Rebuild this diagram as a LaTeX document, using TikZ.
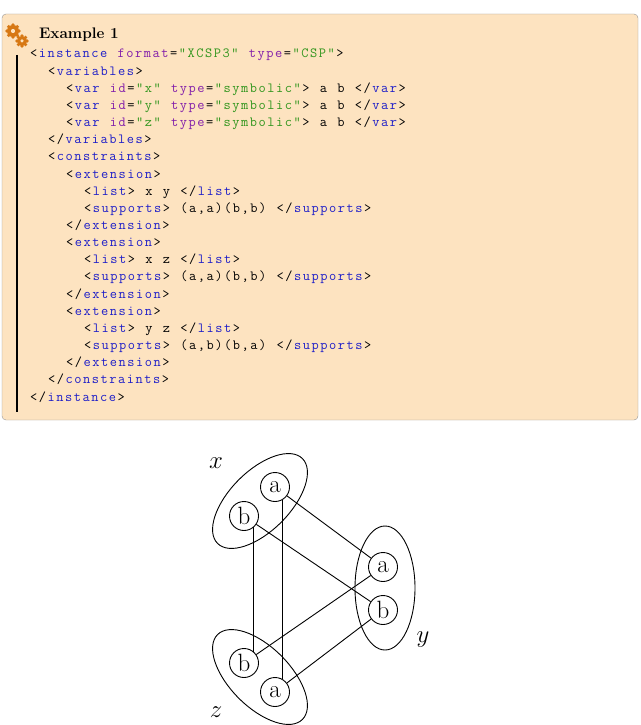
\documentclass[tikz,border=0pt]{standalone}
\usepackage{fontspec}
\newfontfamily\codefont{Latin Modern Mono}
\newcommand\codesetup{\fontsize{14}{15}\codefont}
\definecolor{boxbg}{RGB}{253,227,192}
\definecolor{boxfr}{RGB}{150,150,150}
\definecolor{tagc}{RGB}{30,30,200}
\definecolor{attc}{RGB}{130,30,170}
\definecolor{strc}{RGB}{50,150,30}
\definecolor{gear}{RGB}{215,120,20}
\newcommand\cB{\color{tagc}}
\newcommand\cP{\color{attc}}
\newcommand\cG{\color{strc}}
\newcommand\cK{\color{black}}
\newcommand\cS{\hspace*{8.75pt}}
\def\clstop{\clstop}
\newcommand\cl[1]{\clA#1\clstop}
\def\clA#1{\ifx#1\clstop\else\ifcat\noexpand#1\relax #1\else\makebox[8.75pt][l]{#1}\fi\expandafter\clA\fi}
\begin{document}
\begin{tikzpicture}[x=1pt,y=-1pt,
  codeline/.style={anchor=base west,inner sep=0pt,font=\codesetup},
  val/.style={circle,draw,line width=0.9pt,minimum size=29pt,inner sep=0pt,font=\fontsize{25}{26}\selectfont},
  edge/.style={line width=0.9pt},
  lab/.style={font=\fontsize{30}{32}\selectfont}]
\useasboundingbox (0,0) rectangle (640,725);
\draw[boxfr,fill=boxbg,rounded corners=4pt] (2,14) rectangle (638,420);
\draw[line width=2.5pt] (17,55) -- (17,412);
% gears
\foreach \cx/\cy/\r in {13/31/6,22/41/5}{
  \fill[gear] (\cx,\cy) circle (\r);
  \foreach \a in {0,45,...,315} \fill[gear] ([shift={(\a:\r)}]\cx,\cy) circle (1.8);
  \fill[boxbg] (\cx,\cy) circle (\r*0.35);
}
\node[anchor=base west,inner sep=0pt,font=\fontsize{15.3}{16}\bfseries] (title) at (39,38) {Example 1};
\def\L{17.15}
\node[codeline] (l1) at (30,58+0*\L) {\cl{<\cB instance\cS\cP format\cK=\cG"XCSP3"\cS\cP type\cK=\cG"CSP"\cK>}};
\node[codeline] (l2) at (48,58+1*\L) {\cl{<\cB variables\cK>}};
\node[codeline] (l3) at (66,58+2*\L) {\cl{<\cB var\cS\cP id\cK=\cG"x"\cS\cP type\cK=\cG"symbolic"\cK>\cS a\cS b\cS</\cB var\cK>}};
\node[codeline] (l4) at (66,58+3*\L) {\cl{<\cB var\cS\cP id\cK=\cG"y"\cS\cP type\cK=\cG"symbolic"\cK>\cS a\cS b\cS</\cB var\cK>}};
\node[codeline] (l5) at (66,58+4*\L) {\cl{<\cB var\cS\cP id\cK=\cG"z"\cS\cP type\cK=\cG"symbolic"\cK>\cS a\cS b\cS</\cB var\cK>}};
\node[codeline] (l6) at (48,58+5*\L) {\cl{</\cB variables\cK>}};
\node[codeline] (l7) at (48,58+6*\L) {\cl{<\cB constraints\cK>}};
\node[codeline] (l8) at (66,58+7*\L) {\cl{<\cB extension\cK>}};
\node[codeline] (l9) at (84,58+8*\L) {\cl{<\cB list\cK>\cS x\cS y\cS</\cB list\cK>}};
\node[codeline] (l10) at (84,58+9*\L) {\cl{<\cB supports\cK>\cS(a,a)(b,b)\cS</\cB supports\cK>}};
\node[codeline] (l11) at (66,58+10*\L) {\cl{</\cB extension\cK>}};
\node[codeline] (l12) at (66,58+11*\L) {\cl{<\cB extension\cK>}};
\node[codeline] (l13) at (84,58+12*\L) {\cl{<\cB list\cK>\cS x\cS z\cS</\cB list\cK>}};
\node[codeline] (l14) at (84,58+13*\L) {\cl{<\cB supports\cK>\cS(a,a)(b,b)\cS</\cB supports\cK>}};
\node[codeline] (l15) at (66,58+14*\L) {\cl{</\cB extension\cK>}};
\node[codeline] (l16) at (66,58+15*\L) {\cl{<\cB extension\cK>}};
\node[codeline] (l17) at (84,58+16*\L) {\cl{<\cB list\cK>\cS y\cS z\cS</\cB list\cK>}};
\node[codeline] (l18) at (84,58+17*\L) {\cl{<\cB supports\cK>\cS(a,b)(b,a)\cS</\cB supports\cK>}};
\node[codeline] (l19) at (66,58+18*\L) {\cl{</\cB extension\cK>}};
\node[codeline] (l20) at (48,58+19*\L) {\cl{</\cB constraints\cK>}};
\node[codeline] (l21) at (30,58+20*\L) {\cl{</\cB instance\cK>}};
% graph
\draw[line width=0.9pt,rotate around={45:(260,501)}] (260,501) ellipse (60 and 30);
\draw[line width=0.9pt] (385,588) ellipse (30 and 62);
\draw[line width=0.9pt,rotate around={-45:(260,677)}] (260,677) ellipse (60 and 30);
\node[val] (xa) at (275,487) {a};
\node[val] (xb) at (244,516) {b};
\node[val] (ya) at (383,567) {a};
\node[val] (yb) at (383,610) {b};
\node[val] (zb) at (244,663) {b};
\node[val] (za) at (275,692) {a};
\node[lab] (lx) at (216,463) {$x$};
\node[lab] (ly) at (423,640) {$y$};
\node[lab] (lz) at (216,712) {$z$};
\draw[edge] (xa) -- (ya);
\draw[edge] (xb) -- (yb);
\draw[edge] (zb) -- (ya);
\draw[edge] (za) -- (yb);
\draw[edge] (xa.300) -- (za.60);
\draw[edge] (xb.310) -- (zb.50);
\end{tikzpicture}
\end{document}
